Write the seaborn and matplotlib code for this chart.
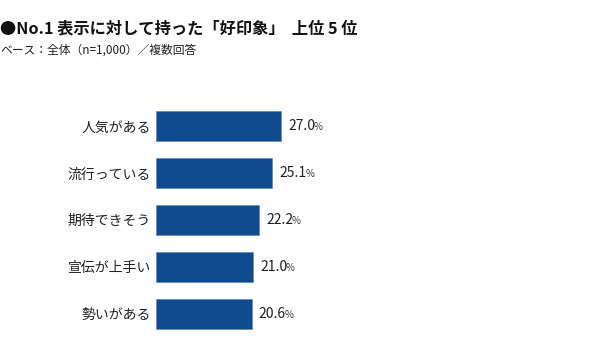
import matplotlib
matplotlib.use("Agg")
import matplotlib.pyplot as plt
import seaborn as sns
import pandas as pd

categories = ["人気がある", "流行っている", "期待できそう", "宣伝が上手い", "勢いがある"]
values = [27.0, 25.1, 22.2, 21.0, 20.6]

title = "●No.1 表示に対して持った「好印象」  上位 5 位"
subtitle = "ベース：全体（n=1,000）／複数回答"

sns.set_theme(style="white")
fam = ["Noto Sans CJK JP", "DejaVu Sans"]
plt.rcParams["font.family"] = fam

df = pd.DataFrame({"item": categories, "pct": values})

W, H = 600, 349
fig = plt.figure(figsize=(W / 100, H / 100), dpi=100)
fig.patch.set_facecolor("white")

px_per_unit = 4.64
x0 = 156
ax = fig.add_axes([x0 / W, 1 - 337 / H, (W - x0) / W, 234.5 / H])

sns.barplot(data=df, y="item", x="pct", orient="h", color="#0f4b8e",
            saturation=1, width=0.64, ax=ax, edgecolor="#5a82b5", linewidth=0.4)

ax.set_xlim(0, (W - x0) / px_per_unit)
ax.set_ylim(4.5, -0.5)
ax.set_xlabel("")
ax.set_ylabel("")
ax.set_xticks([])
for s in ax.spines.values():
    s.set_visible(False)
ax.tick_params(axis="y", length=0, pad=4, labelsize=10, labelcolor="#222222")

# value labels: number followed by a smaller percent sign
renderer = fig.canvas.get_renderer()
for i, v in enumerate(values):
    num = ax.annotate(f"{v:.1f}", xy=(v, i), xytext=(5, 0), textcoords="offset points",
                      va="center", ha="left", fontsize=10, color="#222222", family=fam)
    bb = num.get_window_extent(renderer)
    wpt = bb.width * 72 / fig.dpi
    ax.annotate("%", xy=(v, i), xytext=(5 + wpt - 1.0, -0.8), textcoords="offset points",
                va="center", ha="left", fontsize=7, color="#333333", family=fam)

fig.text(0.0, 1 - 28 / H, title, fontsize=11.7, fontweight="bold", color="#111111",
         va="center", ha="left")
fig.text(0.0, 1 - 50 / H, subtitle, fontsize=8.5, color="#222222",
         va="center", ha="left")

fig.savefig("out.png", dpi=100, facecolor="white")
